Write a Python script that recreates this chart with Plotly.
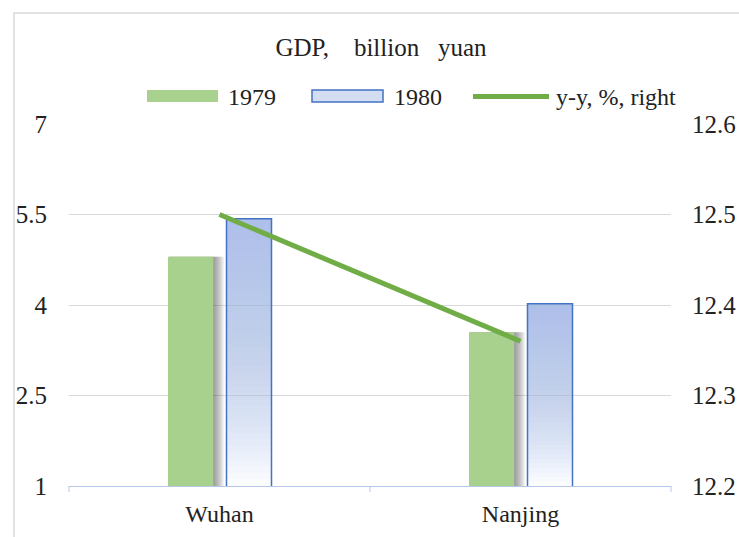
import plotly.graph_objects as go

cities = ["Wuhan", "Nanjing"]
gdp_1979 = [4.80, 3.55]
gdp_1980 = [5.43, 4.02]
yoy = [12.50, 12.36]
left_ticks = [1, 2.5, 4, 5.5, 7]
right_ticks = [12.2, 12.3, 12.4, 12.5, 12.6]
series_names = ["1979", "1980", "y-y, %, right"]
title_text = "GDP,\u00a0\u00a0\u00a0\u00a0billion\u00a0\u00a0\u00a0yuan"

FONT = "Liberation Serif, Times New Roman, serif"
Y_MIN = left_ticks[0]

# layout geometry (pixels)
W, H = 739, 537
L, R, T, B = 69, 68, 124, 51
PW, PH = W - L - R, H - T - B
CAT = PW / len(cities)


def px_x(px):
    return (px - L) / PW


def px_y(py):
    return (H - B - py) / PH


BAR_W = 45 / CAT
OFF_79 = -51.5 / CAT
OFF_80 = 7.0 / CAT

fig = go.Figure()

# soft shadow to the right of the 1979 bars
for ext in range(10, 0, -1):
    fig.add_trace(go.Bar(
        x=cities, y=gdp_1979, width=BAR_W + ext / CAT, offset=OFF_79 + 1 / CAT,
        marker=dict(color="rgba(80,80,80,0.07)", line=dict(width=0)),
        showlegend=False, hoverinfo="skip",
    ))

fig.add_trace(go.Bar(
    x=cities, y=gdp_1979, name=series_names[0], width=BAR_W, offset=OFF_79,
    marker=dict(color="#a9d18e", line=dict(width=0)), showlegend=False,
))

# 1980 bars: vertical gradient (light at the bottom, darker at the top)
N = 40
for k in range(N):
    frac = k / N
    bases = [Y_MIN + (v - Y_MIN) * frac for v in gdp_1980]
    fig.add_trace(go.Bar(
        x=cities, y=[v - b for v, b in zip(gdp_1980, bases)], base=bases,
        width=BAR_W, offset=OFF_80,
        marker=dict(color="rgba(160,184,228,0.048)", line=dict(width=0)),
        showlegend=False, hoverinfo="skip",
    ))
fig.add_trace(go.Bar(
    x=cities, y=gdp_1980, name=series_names[1], width=BAR_W, offset=OFF_80,
    marker=dict(color="rgba(0,0,0,0)", line=dict(color="#4472c4", width=1.5)),
    showlegend=False,
))

fig.add_trace(go.Scatter(
    x=cities, y=yoy, name=series_names[2], yaxis="y2",
    mode="lines", line=dict(color="#70ad47", width=5), showlegend=False,
))

fig.update_layout(
    width=W, height=H,
    margin=dict(l=L, r=R, t=T, b=B, autoexpand=False),
    paper_bgcolor="white", plot_bgcolor="white",
    font=dict(family=FONT, size=24, color="#222222"),
    title=dict(text=title_text, xref="paper", x=px_x(381), xanchor="center",
               y=1 - 47 / H, yanchor="middle", font=dict(size=25, family=FONT)),
    barmode="overlay",
    showlegend=False,
    xaxis=dict(showgrid=False, showline=True, linecolor="#b4c7e7", linewidth=1,
               ticks="", tickfont=dict(size=24), ticklabelstandoff=6, automargin=False),
    yaxis=dict(range=[left_ticks[0], left_ticks[-1]], tickvals=left_ticks,
               ticktext=[f"{v:g}" for v in left_ticks],
               showgrid=True, gridcolor="#d9d9d9", gridwidth=1, zeroline=False,
               showline=False, ticks="", tickfont=dict(size=25), ticklabelstandoff=21,
               automargin=False),
    yaxis2=dict(range=[right_ticks[0], right_ticks[-1]], tickvals=right_ticks,
                ticktext=[f"{v:.1f}" for v in right_ticks],
                overlaying="y", side="right", showgrid=False, zeroline=False,
                showline=False, ticks="", tickfont=dict(size=25), ticklabelstandoff=20,
                automargin=False),
)

shapes = []
# category boundary tick marks on the x axis
for xv in [0, 0.5, 1]:
    shapes.append(dict(type="line", xref="paper", yref="paper", x0=xv, x1=xv,
                       y0=0, y1=-6 / PH, line=dict(color="#b4c7e7", width=1)))
# chart border
shapes.append(dict(type="rect", xref="paper", yref="paper",
                   x0=px_x(14), x1=1.3, y0=-0.5, y1=px_y(13),
                   line=dict(color="#d9d9d9", width=1.5), layer="below"))
# legend swatches
shapes.append(dict(type="rect", xref="paper", yref="paper",
                   x0=px_x(147), x1=px_x(218), y0=px_y(102), y1=px_y(90),
                   fillcolor="#a9d18e", line=dict(width=0)))
shapes.append(dict(type="rect", xref="paper", yref="paper",
                   x0=px_x(312), x1=px_x(383), y0=px_y(102), y1=px_y(90),
                   fillcolor="#d3def3", line=dict(color="#4472c4", width=1.5)))
shapes.append(dict(type="line", xref="paper", yref="paper",
                   x0=px_x(473), x1=px_x(549), y0=px_y(96.5), y1=px_y(96.5),
                   line=dict(color="#70ad47", width=5)))
fig.update_layout(shapes=shapes)

for name, xpx in zip(series_names, [226, 392, 554]):
    fig.add_annotation(text=name, xref="paper", yref="paper", x=px_x(xpx), y=px_y(97),
                       xanchor="left", yanchor="middle", showarrow=False,
                       font=dict(size=24, family=FONT, color="#222222"))

fig.write_html("out.html", config={"displayModeBar": False},
               post_script="document.body.style.margin='0';document.body.style.overflow='hidden';")
